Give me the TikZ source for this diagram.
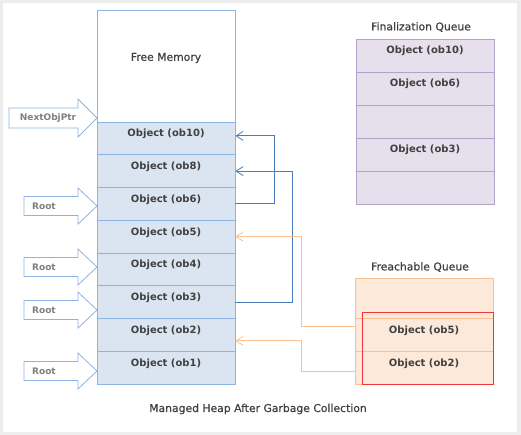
\documentclass[tikz,border=0pt]{standalone}
\usepackage{fontspec}
\setmainfont{DejaVu Sans}
\newfontfamily\titlefont[FakeBold=0.5]{DejaVu Sans}
\usetikzlibrary{arrows.meta}

\definecolor{heapfill}{HTML}{DBE5F1}
\definecolor{heapline}{HTML}{8DB3E2}
\definecolor{finfill}{HTML}{E5E0EC}
\definecolor{finline}{HTML}{B3A2C7}
\definecolor{freafill}{HTML}{FDE9D9}
\definecolor{frealine}{HTML}{FAC090}
\definecolor{refblue}{HTML}{4A7EBB}
\definecolor{pickred}{HTML}{F2353A}
\definecolor{labeltext}{HTML}{404040}
\definecolor{ptrtext}{HTML}{7F7F7F}

\tikzset{
  cell/.style={minimum width=138pt, minimum height=32.75pt, inner sep=0pt,
    text height=8pt, text depth=11pt, line width=0.8pt, text=labeltext,
    font=\bfseries\fontsize{10}{12}\selectfont},
  heapcell/.style={cell, draw=heapline, fill=heapfill},
  fincell/.style={cell, draw=finline, fill=finfill, minimum height=33pt},
  freacell/.style={cell, draw=frealine, fill=freafill, minimum height=33pt},
  title/.style={text=labeltext, font=\titlefont\fontsize{10.8}{13}\selectfont},
  ptrlabel/.style={text=ptrtext, font=\bfseries\fontsize{9}{11}\selectfont},
  blockarrow/.style={draw=heapline, fill=white, line width=0.8pt},
  refline/.style={line width=0.8pt, -{Straight Barb[length=7pt,width=9pt]}}
}

\begin{document}
\begin{tikzpicture}[x=1pt, y=-1pt]
    \useasboundingbox (0,0) rectangle (521,435);
    \fill[gray!14] (0,0) rectangle (521,435);
    \fill[white] (3,3) rectangle (517,432);

    % managed heap
    \node[draw=heapline, line width=0.8pt, minimum width=138pt, minimum height=112pt] (free) at (166,66) {};
    \node[title] (freetext) at (166,58) {Free Memory};
    \foreach [count=\i] \ob in {ob10, ob8, ob6, ob5, ob4, ob3, ob2, ob1} {
      \node[heapcell] (\ob) at (166, 105.6+32.75*\i) {Object (\ob)};
    }

    % pointers into the heap
    \draw[blockarrow] (9,108) -- (78,108) -- (78,99) -- (97,118) -- (78,137) -- (78,128) -- (9,128) -- cycle;
    \node[ptrlabel] (nextptr) at (48,118) {NextObjPtr};
    \foreach \y/\r in {206/root1, 267/root2, 310/root3, 371/root4} {
      \draw[blockarrow] (24,\y-9.5) -- (78,\y-9.5) -- (78,\y-18) -- (97,\y) -- (78,\y+18) -- (78,\y+9.5) -- (24,\y+9.5) -- cycle;
      \node[ptrlabel] (\r) at (44,\y) {Root};
    }

    % finalization queue
    \node[title] (fintitle) at (421,27) {Finalization Queue};
    \foreach [count=\i] \txt in {Object (ob10), Object (ob6), {}, Object (ob3), {}} {
      \node[fincell] (fq\i) at (425, 22.5+33*\i) {\txt};
    }

    % freachable queue
    \node[title] (freatitle) at (420,267) {Freachable Queue};
    \node[freacell, minimum height=40pt] (fr0) at (424,298) {};
    \node[freacell] (frob5) at (424,334.5) {Object (ob5)};
    \node[freacell] (frob2) at (424,367.5) {Object (ob2)};
    \node[draw=pickred, line width=0.9pt, minimum width=131pt, minimum height=72pt] (picked) at (427.5,348) {};

    % references
    \draw[refline, refblue] (ob6.east) -- ++(39,0) |- ([yshift=2.5pt]ob10.east);
    \draw[refline, refblue] (ob3.east) -- ++(57,0) |- (ob8.east);
    \draw[refline, frealine] ([yshift=8.5pt]frob5.west) -- ++(-53,0) |- (ob5.east);
    \draw[refline, frealine] ([yshift=-3.5pt]frob2.west) -- ++(-53,0) |- ([yshift=-6pt]ob2.east);

    \node[title] (caption) at (258,409) {Managed Heap After Garbage Collection};
  \end{tikzpicture}
\end{document}
